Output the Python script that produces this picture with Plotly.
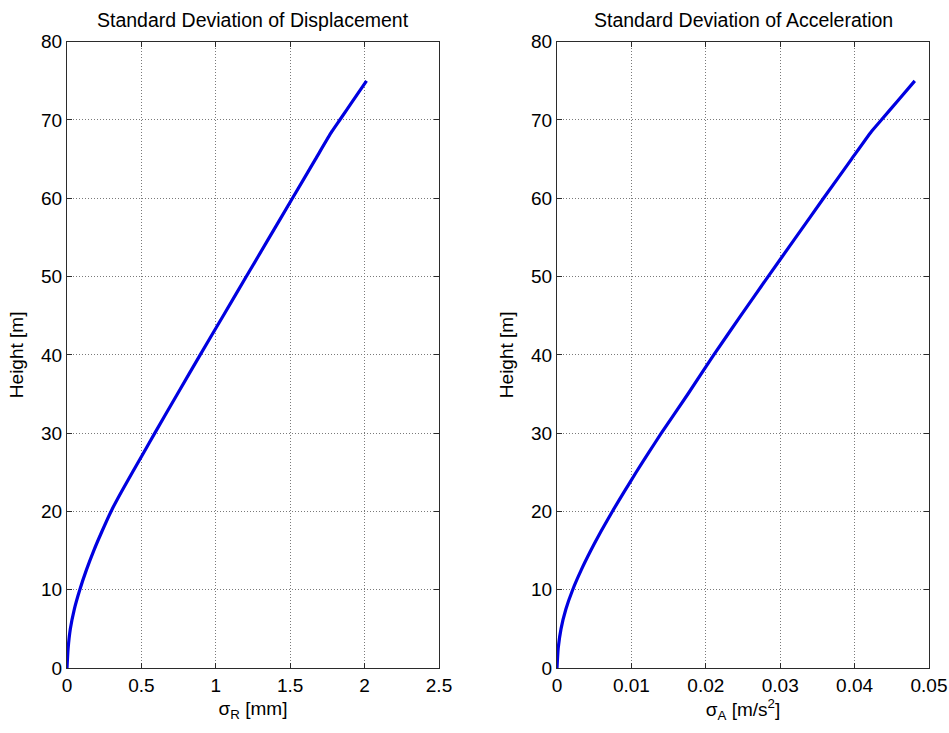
import plotly.graph_objects as go

# Data
height_m = [0, 2.5, 5, 7.5, 10, 12.5, 15, 17.5, 20, 22.5, 25, 27.5, 30, 35, 40, 45, 50,
            55, 60, 65, 68.5, 70, 72.5, 75]
sigma_R_mm = [0, 0.0075, 0.0225, 0.049, 0.086, 0.130, 0.180, 0.236, 0.296, 0.366, 0.44, 0.515,
              0.59, 0.742, 0.895, 1.05, 1.205, 1.36, 1.515, 1.67, 1.779, 1.833, 1.923, 2.013]
sigma_A = [0, 0.00016, 0.00054, 0.00119, 0.00211, 0.00325, 0.00454, 0.00594, 0.00744,
           0.00902, 0.01064, 0.01232, 0.01402, 0.0176, 0.02107, 0.0247, 0.02837, 0.0321,
           0.03582, 0.03959, 0.04224, 0.04359, 0.04584, 0.04809]

x1_ticks = [0, 0.5, 1, 1.5, 2, 2.5]
x1_labels = ["0", "0.5", "1", "1.5", "2", "2.5"]
x2_ticks = [0, 0.01, 0.02, 0.03, 0.04, 0.05]
x2_labels = ["0", "0.01", "0.02", "0.03", "0.04", "0.05"]
y_ticks = [0, 10, 20, 30, 40, 50, 60, 70, 80]

titles = ["Standard Deviation of Displacement", "Standard Deviation of Acceleration"]
x_titles = ["σ<sub>R</sub> [mm]", "σ<sub>A</sub> [m/s<sup>2</sup>]"]
y_title = "Height [m]"

FONT = "Liberation Sans, Arial, Helvetica, sans-serif"
LINE_COLOR = "#0000e0"
AX_COLOR = "#2b2b2b"
GRID_COLOR = "#7a7a7a"

fig = go.Figure()
fig.add_trace(go.Scatter(x=sigma_R_mm, y=height_m, mode="lines",
                         line=dict(color=LINE_COLOR, width=3.2, shape="spline", smoothing=0.5),
                         xaxis="x", yaxis="y", showlegend=False))
fig.add_trace(go.Scatter(x=sigma_A, y=height_m, mode="lines",
                         line=dict(color=LINE_COLOR, width=3.2, shape="spline", smoothing=0.5),
                         xaxis="x2", yaxis="y2", showlegend=False))

W, H = 949, 733
left_dom = [67 / W, 439 / W]
right_dom = [557 / W, 929 / W]
y_dom = [1 - 668 / H, 1 - 41.7 / H]

common_axis = dict(
    automargin=False,
    showline=True, linecolor=AX_COLOR, linewidth=1, mirror="ticks",
    ticks="inside", ticklen=5, tickcolor=AX_COLOR, tickwidth=1,
    showgrid=True, gridcolor=GRID_COLOR, griddash="1px,2px", gridwidth=1,
    zeroline=False, tickfont=dict(family=FONT, size=19, color="#000000"),
    title_font=dict(family=FONT, size=19, color="#000000"),
)

fig.update_layout(
    width=W, height=H,
    margin=dict(l=0, r=0, t=0, b=0, pad=0, autoexpand=False),
    paper_bgcolor="white", plot_bgcolor="white",
    font=dict(family=FONT, color="#000000"),
    xaxis=dict(domain=left_dom, anchor="y", range=[0, 2.5], tickmode="array",
               tickvals=x1_ticks, ticktext=x1_labels,
               title=dict(text=x_titles[0], standoff=6), **common_axis),
    yaxis=dict(domain=y_dom, anchor="x", range=[0, 80], tickmode="array",
               tickvals=y_ticks, title=dict(text=y_title, standoff=12), **common_axis),
    xaxis2=dict(domain=right_dom, anchor="y2", range=[0, 0.05], tickmode="array",
                tickvals=x2_ticks, ticktext=x2_labels,
                title=dict(text=x_titles[1], standoff=6), **common_axis),
    yaxis2=dict(domain=y_dom, anchor="x2", range=[0, 80], tickmode="array",
                tickvals=y_ticks, title=dict(text=y_title, standoff=12), **common_axis),
    annotations=[
        dict(text=titles[0], x=(left_dom[0] + left_dom[1]) / 2, y=1 - 20 / H,
             xref="paper", yref="paper", showarrow=False, xanchor="center", yanchor="middle",
             font=dict(family=FONT, size=19.5, color="#000000")),
        dict(text=titles[1], x=(right_dom[0] + right_dom[1]) / 2, y=1 - 20 / H,
             xref="paper", yref="paper", showarrow=False, xanchor="center", yanchor="middle",
             font=dict(family=FONT, size=19.5, color="#000000")),
    ],
)

fig.write_html("out.html")
